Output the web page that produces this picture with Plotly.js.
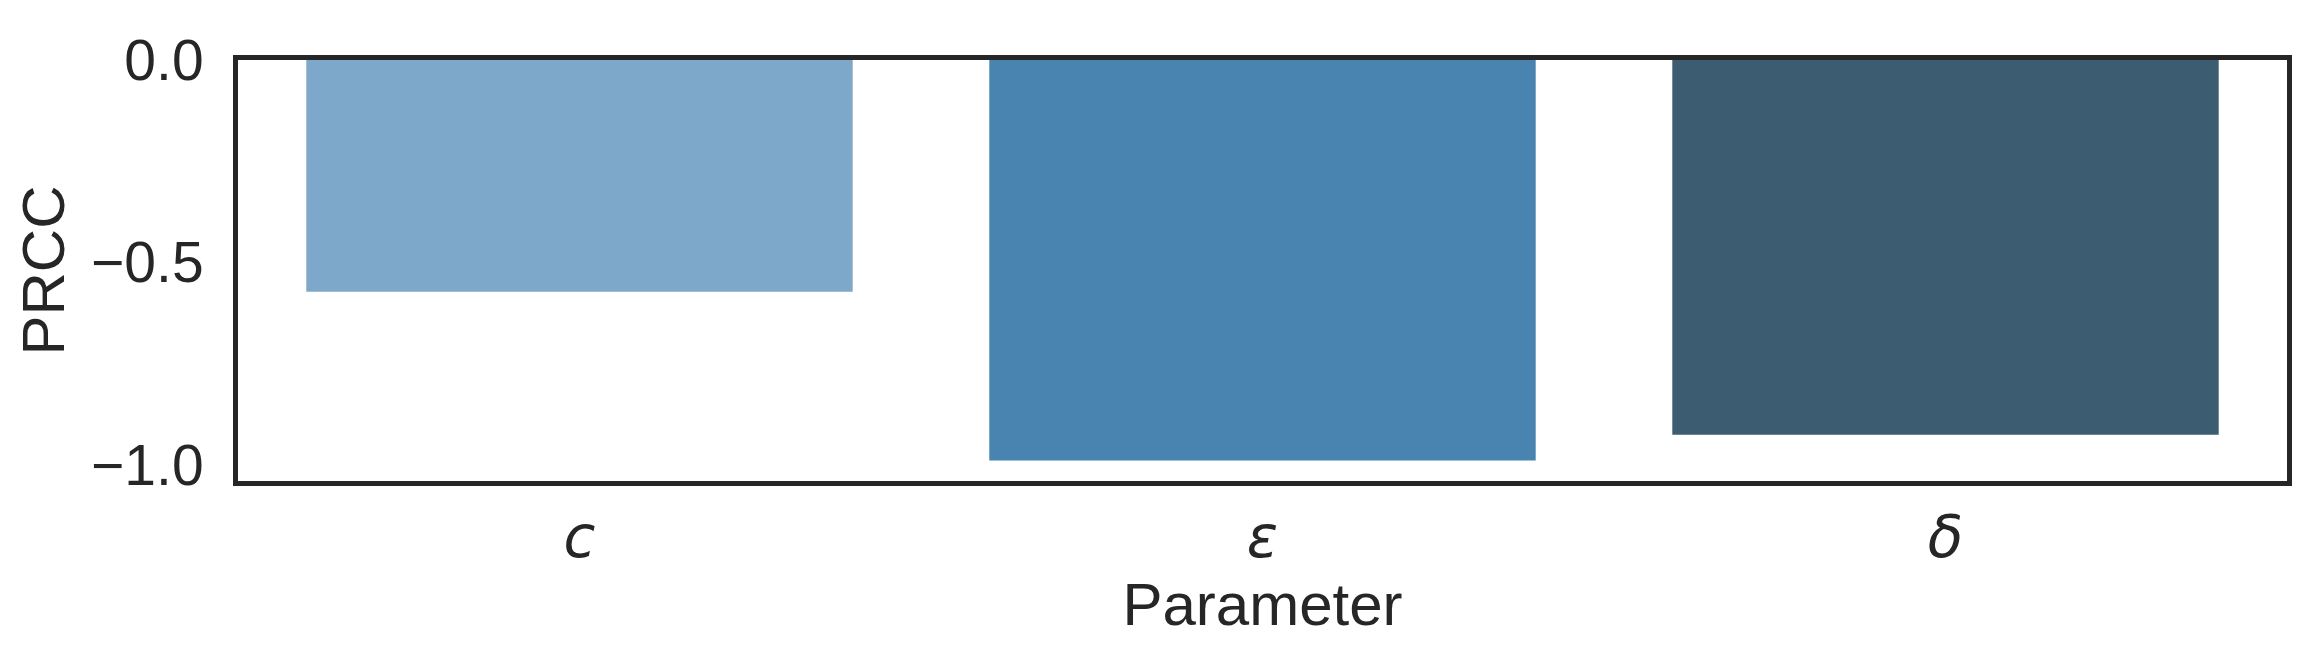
<!DOCTYPE html>
<html>
<head>
<meta charset="utf-8">
<script src="https://cdn.plot.ly/plotly-3.0.1.min.js"></script>
<style>
  html, body { margin: 0; padding: 0; background: #fff; }
  #chart { width: 2316px; height: 652px; }
</style>
</head>
<body>
<div id="chart"></div>
<script>
// PRCC per parameter
const params = ["c", "ε", "δ"];
const prcc = [-0.572, -0.989, -0.925];
const barColors = ["#7ea8c9", "#4884af", "#3c5c72"];
const yTicks = [0, -0.5, -1.0];

const ink = "#262626";

const trace = {
    x: params,
    y: prcc,
    type: "bar",
    width: 0.8,
    marker: {color: barColors, line: {width: 0}},
    hoverinfo: "x+y",
    showlegend: false
};

const layout = {
    width: 2316,
    height: 652,
    margin: {l: 238, r: 29, t: 60, b: 171, pad: 0},
    paper_bgcolor: "#ffffff",
    plot_bgcolor: "#ffffff",
    font: {family: "Liberation Sans, Arial, sans-serif", color: ink, size: 55},
    bargap: 0.2,
    xaxis: {
        type: "category",
        range: [-0.5, 2.5],
        showgrid: false,
        zeroline: false,
        showline: true,
        mirror: true,
        linecolor: ink,
        linewidth: 5,
        ticks: "",
        ticklabelstandoff: 1,
        tickfont: {family: "DejaVu Sans, sans-serif", size: 58, style: "italic", color: ink},
        title: {text: "Parameter", font: {size: 60, color: ink}, standoff: 8},
        automargin: false
    },
    yaxis: {
        range: [-1.0395, 0],
        tickvals: yTicks,
        tickformat: ".1f",
        showgrid: false,
        zeroline: false,
        showline: true,
        mirror: true,
        linecolor: ink,
        linewidth: 5,
        ticks: "",
        ticklabelstandoff: 18,
        tickfont: {size: 57, color: ink},
        title: {text: "PRCC", font: {size: 60, color: ink}, standoff: 9},
        automargin: false
    }
};

Plotly.newPlot("chart", [trace], layout, {displayModeBar: false, staticPlot: true});
</script>
</body>
</html>
